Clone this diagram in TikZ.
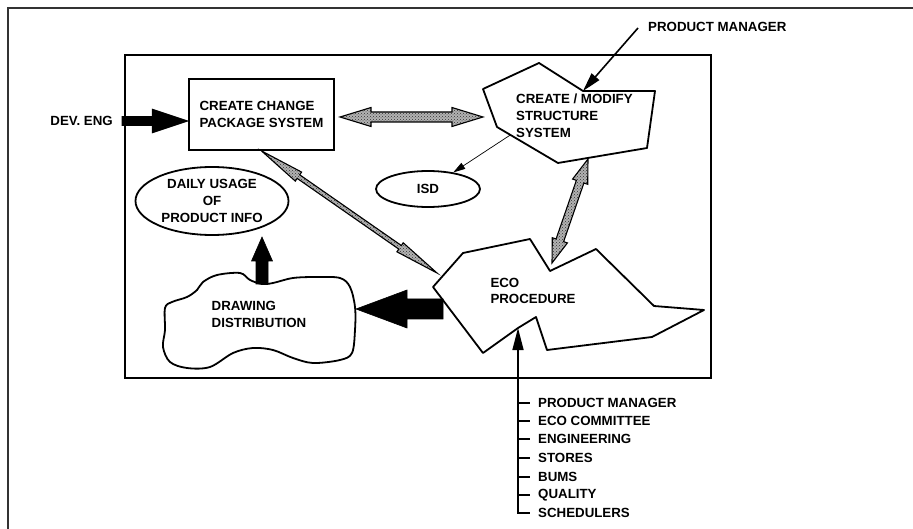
\documentclass[tikz,border=0pt]{standalone}
\usepackage{fontspec}
\setmainfont{Liberation Sans}
\usetikzlibrary{calc,shapes.geometric,patterns,arrows.meta}

\tikzset{
  shapeline/.style={draw, line width=1.8pt, line join=round},
  label/.style={font=\fontsize{13.3}{16.8}\selectfont\bfseries, inner sep=0pt},
  stipple/.style={draw, line width=1.1pt, line join=miter, preaction={fill=black!30},
    pattern=crosshatch dots, pattern color=black!80},
  solidarrow/.style={draw, fill=black, line width=0.6pt},
}

% fat arrow with one or two heads: style, from, to, half shaft, half head, head length
\newcommand\fatarrow[6]{%
  \path let \p1=($(#3)-(#2)$) in \pgfextra{%
    \pgfmathparse{atan2(\y1,\x1)}\xdef\farang{\pgfmathresult}%
    \pgfmathparse{veclen(\x1,\y1)}\xdef\farlen{\pgfmathresult}};
  \begin{scope}[shift={(#2)}, rotate=\farang]
    \path[#1] (0,#4) -- ({\farlen-#6},#4) -- ({\farlen-#6},#5) -- (\farlen,0)
      -- ({\farlen-#6},-#5) -- ({\farlen-#6},-#4) -- (0,-#4) -- cycle;
  \end{scope}}
\newcommand\dblfatarrow[6]{%
  \path let \p1=($(#3)-(#2)$) in \pgfextra{%
    \pgfmathparse{atan2(\y1,\x1)}\xdef\farang{\pgfmathresult}%
    \pgfmathparse{veclen(\x1,\y1)}\xdef\farlen{\pgfmathresult}};
  \begin{scope}[shift={(#2)}, rotate=\farang]
    \path[#1] (0,0) -- (#6,#5) -- (#6,#4) -- ({\farlen-#6},#4) -- ({\farlen-#6},#5) -- (\farlen,0)
      -- ({\farlen-#6},-#5) -- ({\farlen-#6},-#4) -- (#6,-#4) -- (#6,-#5) -- cycle;
  \end{scope}}

\begin{document}
\begin{tikzpicture}[x=1pt, y=-1pt]
  \useasboundingbox (0,0) rectangle (913,529);

  % page frame and system frame
  \draw[line width=1.4pt, black!80] (913,8) -- (8,8) -- (8,529);
  \draw[line width=2.4pt] (125,55) rectangle (711,378);

  % create change package system
  \node[draw, line width=1.8pt, minimum width=145, minimum height=71, label, align=left]
    (ccp) at (261.5,114.5) {CREATE CHANGE\\PACKAGE SYSTEM};
  \node[label, anchor=east] (dev) at (113,121) {DEV. ENG};
  \coordinate (devTail) at (122,121);
  \coordinate (devTip) at ($(ccp.west)+(0,6.5)$);
  \fatarrow{solidarrow}{devTail}{devTip}{4.5}{12}{36}

  % create / modify structure system
  \draw[shapeline] (483,89) coordinate (c1) -- (539,63) -- (583,91) coordinate (c3) -- (655,91)
    -- (647,148) coordinate (c5) -- (558,163) coordinate (c6) -- (497,127) coordinate (c7) -- cycle;
  \node[label, align=left, anchor=north west] (cms) at (516,94) {CREATE / MODIFY\\STRUCTURE\\SYSTEM};
  \node[label, anchor=west] (pmTop) at (648,27) {PRODUCT MANAGER};
  \coordinate (pmTail) at (638,28);
  \draw[line width=1.6pt, -{Triangle[length=19pt,width=10pt]}] (pmTail) -- (c3);

  \coordinate (ccpRight) at (340,117);
  \coordinate (cmsLeft) at (483,117);
  \dblfatarrow{stipple}{ccpRight}{cmsLeft}{5}{9.5}{31}

  % isd
  \node[draw, ellipse, line width=1.8pt, minimum width=104, minimum height=36, label] (isd) at (428,189) {ISD};
  \coordinate (isdTail) at ($(c7)!0.22!(c6)$);
  \draw[line width=0.7pt, -{Triangle[length=12pt,width=7pt]}] (isdTail) -- (isd);

  % daily usage
  \node[draw, ellipse, line width=1.8pt, minimum width=153, minimum height=68, label, align=center]
    (daily) at (212,201) {DAILY USAGE\\OF\\PRODUCT INFO};

  % drawing distribution
  \draw[shapeline] plot[smooth cycle, tension=0.55] coordinates {
    (165,308) (172,302) (187,297) (197,290) (203,282) (217,275) (240,273) (250,280)
    (262,284) (273,283) (293,278) (317,277) (340,278) (350,287) (355,307) (355,330)
    (352,353) (340,360) (313,363) (293,358) (273,350) (253,348) (233,353) (210,367)
    (187,368) (170,362) (163,347) (165,330)};
  \node[label, align=left] (dist) at (259,314.5) {DRAWING\\DISTRIBUTION};
  \coordinate (distTop) at (262,284);
  \coordinate (dailyBottom) at (262,237);
  \coordinate (distRight) at (356,309);
  \fatarrow{solidarrow}{distTop}{dailyBottom}{6}{10.5}{24}

  % eco procedure
  \draw[shapeline] (433,287) coordinate (e1) -- (463,253) -- (530,239) -- (550,271) coordinate (eTop)
    -- (596,249) -- (654,306) -- (704,310) -- (652,337) -- (547,350) -- (536,317)
    -- (518,328) coordinate (eIn) -- (483,353) -- cycle;
  \node[label, align=left] (eco) at (533,291) {ECO\\PROCEDURE};
  \coordinate (ecoLeft) at (443,309);
  \fatarrow{solidarrow}{ecoLeft}{distRight}{10}{19}{51}

  \coordinate (ecoCorner) at (437,273);
  \dblfatarrow{stipple}{ccp.south}{ecoCorner}{2.2}{5.5}{45}
  \coordinate (ecoUp) at (552,263);
  \coordinate (cmsDown) at (588,159);
  \dblfatarrow{stipple}{ecoUp}{cmsDown}{4}{8}{24}

  % people feeding the eco procedure
  \coordinate (listEnd) at (518,513);
  \draw[line width=1.5pt, -{Triangle[length=22pt,width=11pt]}] (listEnd) -- (eIn);
  \foreach \y/\who in {403/PRODUCT MANAGER, 421/ECO COMMITTEE, 439/ENGINEERING,
      458/STORES, 477/BUMS, 495/QUALITY, 513/SCHEDULERS} {
    \draw[line width=1.5pt] (517.25,\y) -- (530,\y);
    \node[label, anchor=west] (who\y) at (538,\y) {\who};
  }
\end{tikzpicture}
\end{document}
